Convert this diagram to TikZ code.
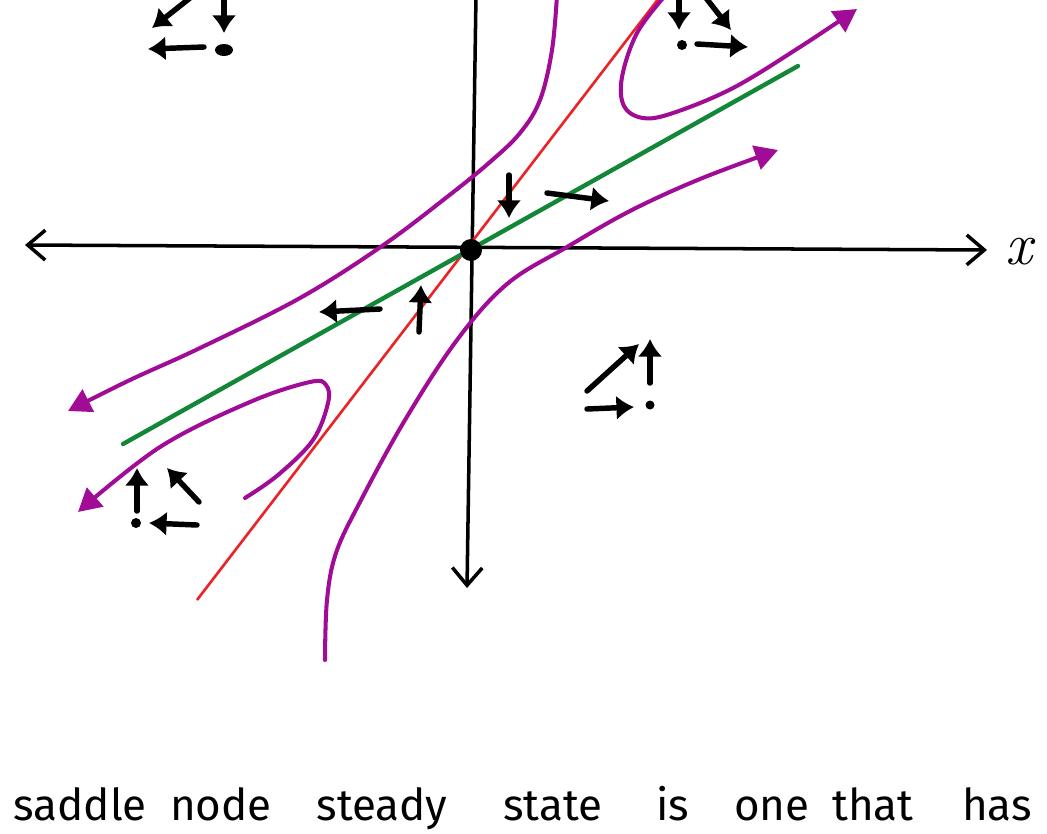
\documentclass[tikz,border=0pt]{standalone}
\usepackage{fontspec}
\newfontfamily\handfont{Fira Sans}
\usepackage{tikz}
\usetikzlibrary{arrows.meta}
\definecolor{TrajPurple}{RGB}{160,12,150}
\definecolor{LineRed}{RGB}{235,35,40}
\definecolor{LineGreen}{RGB}{18,135,55}

\begin{document}
\begin{tikzpicture}[x=0.02cm,y=-0.02cm,>=Latex,
    axistip/.tip={Straight Barb[length=10pt,width=17pt,line width=2pt]},
    axisline/.style={line width=2pt,line cap=round},
    flow/.style={line width=3.1pt,line cap=round,-{Latex[length=10pt,width=14pt]}},
    traj/.style={TrajPurple,line width=2.3pt,line cap=round},
    trajtip/.style={-{Triangle[length=13pt,width=14pt]}},
    caption/.style={font=\handfont\fontsize{25}{25}\selectfont,anchor=base,inner sep=0pt}]
  \useasboundingbox (0,0) rectangle (1047,833);

  % Ejes
  \draw[axisline,axistip-axistip] (25,245) -- (987,250);
  \draw[axisline,-axistip] (476,-5) -- (467,588);
  \node[font=\itshape\fontsize{34}{34}\selectfont,inner sep=0pt] (xlabel) at (1019,252) {x};

  % Rectas invariantes
  \draw[LineRed,line width=1.5pt] (197,600) -- (659,-2);
  \draw[LineGreen,line width=2.5pt,line cap=round] (123,444) -- (798,66);

  % Trayectorias
  \draw[traj,trajtip] plot[smooth,tension=0.6] coordinates
    {(557,-5) (552,50) (540,100) (520,133) (490,162) (447,197) (382,246) (300,298) (200,348) (130,380) (68,411)};
  \draw[traj,trajtip] plot[smooth,tension=0.6] coordinates
    {(325,660) (327,600) (336,553) (360,502) (405,420) (457,340) (507,284) (567,247) (630,211) (700,179) (778,150)};
  \draw[traj,trajtip] plot[smooth,tension=0.6] coordinates
    {(664,-3) (637,33) (622,77) (624,106) (643,118) (673,113) (733,88) (800,47) (857,9)};
  \draw[traj,trajtip] plot[smooth,tension=0.6] coordinates
    {(245,498) (278,475) (313,440) (328,403) (326,385) (310,382) (250,402) (160,447) (78,512)};

  % Punto de silla
  \fill (471,250) circle (11);

  % Arriba izquierda
  \draw[flow] (190,-2) -- (152,28);
  \draw[flow] (224,-2) -- (224,33);
  \draw[flow] (204,47) -- (148,49);
  \fill (224,50) ellipse (9 and 6);

  % Arriba derecha
  \draw[flow] (679,-2) -- (679,30);
  \draw[flow] (706,-2) -- (731,30);
  \draw[flow] (697,44) -- (748,47);
  \fill (682,45) circle (5);

  % Centro
  \draw[flow] (509,175) -- (509,218);
  \draw[flow] (547,193) -- (609,201);
  \draw[flow] (380,309) -- (319,312);
  \draw[flow] (419,332) -- (421,285);

  % Abajo derecha
  \draw[flow] (587,391) -- (639,344);
  \draw[flow] (650,383) -- (650,339);
  \draw[flow] (587,409) -- (634,407);
  \fill (650,405) circle (4.5);

  % Abajo izquierda
  \draw[flow] (137,511) -- (137,468);
  \draw[flow] (199,502) -- (167,468);
  \draw[flow] (197,525) -- (149,523);
  \fill (136,523) circle (5);

  % Texto
  \foreach \w/\xc in {saddle/80,node/221,steady/382,state/553,is/673,one/772,that/873,has/997}
    \node[caption] (word-\w) at (\xc,820) {\w};
\end{tikzpicture}
\end{document}
